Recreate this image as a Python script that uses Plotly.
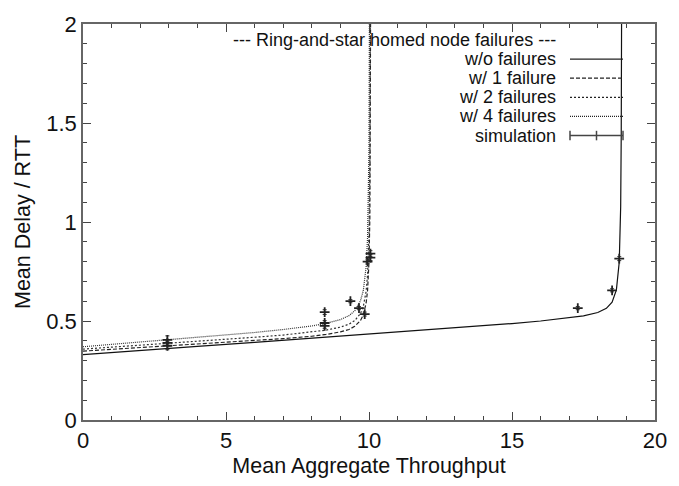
import plotly.graph_objects as go

# Analytical mean delay curves (throughput -> delay / RTT)
x_none = [0, 2, 4, 6, 8, 10, 12, 14, 15, 16, 17, 17.5, 18, 18.3, 18.5, 18.65, 18.75, 18.8, 18.82, 18.835]
y_none = [0.330, 0.352, 0.372, 0.392, 0.413, 0.433, 0.454, 0.476, 0.487, 0.500, 0.515, 0.526, 0.543, 0.564, 0.595, 0.657, 0.798, 1.078, 1.45, 2.2]

x_one = [0, 2, 4, 6, 7, 8, 8.5, 9, 9.3, 9.5, 9.7, 9.8, 9.9, 9.95, 10.0, 10.03, 10.05, 10.065]
y_one = [0.348, 0.365, 0.382, 0.400, 0.411, 0.423, 0.432, 0.445, 0.457, 0.473, 0.502, 0.530, 0.591, 0.655, 0.80, 1.025, 1.425, 2.425]

x_two = [0, 2, 4, 6, 7, 8, 8.5, 9, 9.3, 9.5, 9.7, 9.8, 9.9, 9.95, 10.0, 10.03, 10.05]
y_two = [0.358, 0.377, 0.397, 0.418, 0.429, 0.444, 0.454, 0.469, 0.484, 0.502, 0.537, 0.573, 0.650, 0.736, 0.945, 1.32, 2.2]

x_four = [0, 2, 4, 6, 7, 8, 8.5, 9, 9.3, 9.5, 9.7, 9.8, 9.9, 9.95, 10.0, 10.02, 10.03]
y_four = [0.370, 0.393, 0.416, 0.442, 0.457, 0.475, 0.488, 0.507, 0.527, 0.551, 0.601, 0.653, 0.774, 0.925, 1.375, 1.975, 2.7]

# Simulation results with error bars
sim_x = [2.95, 2.95, 2.95, 8.45, 8.45, 8.45, 9.35, 9.65, 9.85, 9.95, 10.05, 10.05, 17.3, 18.5, 18.75]
sim_y = [0.375, 0.39, 0.405, 0.545, 0.49, 0.475, 0.60, 0.565, 0.535, 0.80, 0.84, 0.82, 0.565, 0.655, 0.815]
sim_err = [0.02, 0.015, 0.02, 0.012, 0.012, 0.012, 0.008, 0.008, 0.01, 0.01, 0.015, 0.015, 0.008, 0.008, 0.01]

legend_title = "--- Ring-and-star homed node failures ---"
legend_labels = ["w/o failures", "w/ 1 failure", "w/ 2 failures", "w/ 4 failures", "simulation"]
legend_dashes = ["solid", "4px,2px", "2px,2px", "1px,1px", None]

FONT = "Liberation Sans, Arial, sans-serif"
KEY_SIZE = 18

fig = go.Figure()
fig.add_trace(go.Scatter(x=x_none, y=y_none, mode="lines",
                         line=dict(color="#111", width=1.2, dash="solid")))
fig.add_trace(go.Scatter(x=x_one, y=y_one, mode="lines",
                         line=dict(color="#222", width=1.2, dash="4px,2px")))
fig.add_trace(go.Scatter(x=x_two, y=y_two, mode="lines",
                         line=dict(color="#333", width=1.2, dash="2px,2px")))
fig.add_trace(go.Scatter(x=x_four, y=y_four, mode="lines",
                         line=dict(color="#333", width=1.2, dash="1px,1px")))
fig.add_trace(go.Scatter(x=sim_x, y=sim_y, mode="markers",
                         marker=dict(symbol="cross-thin", size=7, line=dict(color="#222", width=1.8)),
                         error_y=dict(type="data", array=sim_err, color="#333", thickness=1, width=2)))

# Key placed in the upper right corner, text right-aligned with samples after it
PLOT_TOP, PLOT_H = 15, 410
text_right = (557 - 83) / 572
samp_x0 = (570 - 83) / 572
samp_x1 = (623 - 83) / 572
row_px = [31.5 + 19.8 * i for i in range(6)]
row_y = [1 - (p - PLOT_TOP) / PLOT_H for p in row_px]

fig.add_annotation(x=text_right, y=row_y[0], xref="paper", yref="paper", text=legend_title,
                   showarrow=False, xanchor="right", yanchor="middle", borderpad=0,
                   font=dict(family=FONT, size=KEY_SIZE, color="#111"))
for lab, dash, yy in zip(legend_labels, legend_dashes, row_y[1:]):
    fig.add_annotation(x=text_right, y=yy, xref="paper", yref="paper", text=lab,
                       showarrow=False, xanchor="right", yanchor="middle", borderpad=0,
                       font=dict(family=FONT, size=KEY_SIZE, color="#111"))
    if dash is not None:
        fig.add_shape(type="line", xref="paper", yref="paper", x0=samp_x0, x1=samp_x1, y0=yy, y1=yy,
                      line=dict(color="#222", width=1.2, dash=dash))
    else:
        fig.add_shape(type="line", xref="paper", yref="paper", x0=samp_x0, x1=samp_x1, y0=yy, y1=yy,
                      line=dict(color="#444", width=1.5))
        mid = (samp_x0 + samp_x1) / 2
        for xx in (samp_x0, mid, samp_x1):
            fig.add_shape(type="line", xref="paper", yref="paper", x0=xx, x1=xx,
                          y0=yy - 0.012, y1=yy + 0.012, line=dict(color="#444", width=1.5))

axis_common = dict(
    showgrid=False, zeroline=False, showline=True, linecolor="#666", linewidth=1.5,
    mirror="allticks", ticks="inside", ticklen=8, tickwidth=1, tickcolor="#444",
    tickfont=dict(family=FONT, size=22, color="#111"),
)

fig.update_xaxes(range=[0, 20], dtick=5, tick0=0,
                 minor=dict(dtick=1, ticks="inside", ticklen=4, tickcolor="#444"),
                 title=dict(text="Mean Aggregate Throughput", font=dict(family=FONT, size=21.5, color="#111"),
                            standoff=6),
                 **axis_common)
fig.update_yaxes(range=[0, 2], dtick=0.5, tick0=0,
                 minor=dict(dtick=0.1, ticks="inside", ticklen=4, tickcolor="#444"),
                 title=dict(text="Mean Delay / RTT", font=dict(family=FONT, size=21.5, color="#111"),
                            standoff=10),
                 **axis_common)

fig.update_layout(
    width=679, height=486,
    margin=dict(l=83, r=24, t=15, b=61),
    paper_bgcolor="white", plot_bgcolor="white",
    showlegend=False,
)

fig.write_html("out.html")
